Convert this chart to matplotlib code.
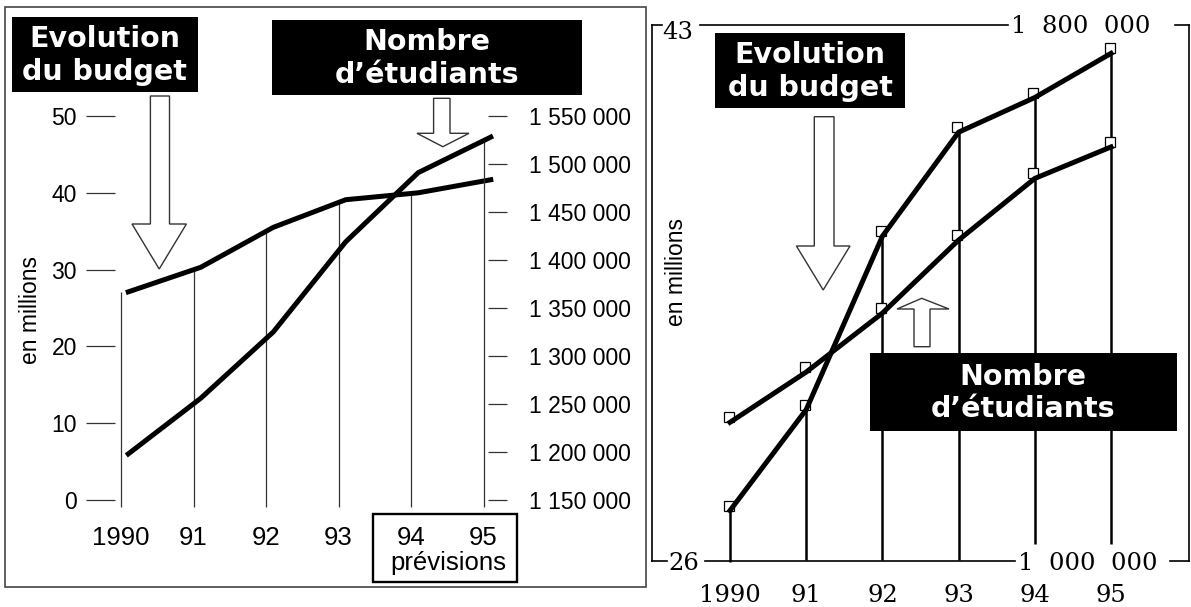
import matplotlib
matplotlib.use('Agg')
import matplotlib.pyplot as plt
import numpy as np
from matplotlib.patches import Rectangle, Polygon
from matplotlib.lines import Line2D
from matplotlib.transforms import Affine2D, ScaledTranslation

plt.rcParams['font.family'] = ['Liberation Sans', 'DejaVu Sans']

# ---------------- data ----------------
years = ["1990", "91", "92", "93", "94", "95"]
left_budget = [27.1, 30.3, 35.5, 39.1, 40.0, 41.7]            # millions
left_students = [1198000, 1256000, 1325000, 1419000, 1491000, 1528000]
left_budget_ticks = [0, 10, 20, 30, 40, 50]
left_student_ticks = [1150000, 1200000, 1250000, 1300000, 1350000,
                      1400000, 1450000, 1500000, 1550000]
left_student_labels = ["1 150 000", "1 200 000", "1 250 000", "1 300 000", "1 350 000",
                       "1 400 000", "1 450 000", "1 500 000", "1 550 000"]

right_budget = [27.6, 30.8, 36.3, 39.6, 40.7, 42.1]
right_students = [1207000, 1282000, 1370000, 1479000, 1571000, 1618000]
right_budget_lim = (26, 43)
right_student_lim = (1000000, 1800000)
right_budget_labels = ["26", "43"]
right_student_labels = ["1  000  000", "1  800  000"]

# ---------------- figure ----------------
W, H = 1191, 607
fig = plt.figure(figsize=(W / 100, H / 100), dpi=100)
pix = Affine2D().scale(1 / W, -1 / H).translate(0, 1) + fig.transFigure


def axes_px(x0, y0, x1, y1):
    return fig.add_axes([x0 / W, 1 - y1 / H, (x1 - x0) / W, (y1 - y0) / H])


def down_arrow(sl, sr, top, hb, hl, hr, tipx, tipy):
    pts = [(sl, top), (sr, top), (sr, hb), (hr, hb), (tipx, tipy), (hl, hb), (sl, hb)]
    fig.add_artist(Polygon(pts, closed=True, transform=pix, facecolor='white',
                           edgecolor='#333333', lw=1.0, zorder=5))


def label_box(x0, y0, x1, y1, text):
    fig.add_artist(Rectangle((x0, y0), x1 - x0, y1 - y0, transform=pix,
                             facecolor='black', edgecolor='none', zorder=6))
    fig.text((x0 + x1) / 2, (y0 + y1) / 2 + 1, text, transform=pix, ha='center', va='center',
             color='white', fontweight='bold', family='DejaVu Sans', fontsize=20.5,
             linespacing=1.2, zorder=7)


x = np.arange(len(years))
black = 'black'

# ================= LEFT PANEL =================
fig.add_artist(Rectangle((5, 7), 640.5, 580, transform=pix, fill=False,
                         edgecolor='#444444', lw=1.2))

ax1 = axes_px(121, 116, 483.5, 500)
ax1.set_xlim(0, 5)
ax1.set_ylim(0, 50)
ax1.patch.set_alpha(0)
for s in ax1.spines.values():
    s.set_visible(False)
ax1.spines['left'].set_position(('outward', 6 * 0.72))
ax1.set_yticks(left_budget_ticks)
ax1.set_yticklabels([str(t) for t in left_budget_ticks])
ax1.tick_params(axis='y', direction='out', length=29 * 0.72, width=0.9,
                color='#333333', pad=6.5, labelsize=16.5)
ax1.set_xticks(x)
ax1.set_xticklabels(years, fontsize=18.5)
ax1.tick_params(axis='x', length=0, pad=19)

ax2 = ax1.twinx()
ax2.set_ylim(left_student_ticks[0], left_student_ticks[-1])
for s in ax2.spines.values():
    s.set_visible(False)
ax2.spines['right'].set_position(('outward', 4 * 0.72))
ax2.set_yticks(left_student_ticks)
ax2.set_yticklabels(left_student_labels)
ax2.tick_params(axis='y', direction='out', length=19 * 0.72, width=0.9,
                color='#333333', pad=16.5, labelsize=16.5)

shift = 0.1
xs = x + shift
ax1.plot(xs, left_budget, color=black, lw=3.6, clip_on=False, zorder=4)
ax2.plot(xs, left_students, color=black, lw=3.6, clip_on=False, zorder=4)

# thin vertical guide lines
bot_b = -7 * 50 / 384
for i in range(5):
    ax1.vlines(x[i], bot_b, np.interp(x[i], xs, left_budget), color='#333333',
               lw=0.9, clip_on=False, zorder=3)
bot_s = left_student_ticks[0] - 7 * 400000 / 384
ax2.vlines(x[5], bot_s, np.interp(x[5], xs, left_students), color='#333333',
           lw=0.9, clip_on=False, zorder=3)

fig.add_artist(Rectangle((372.7, 514), 144, 67.7, transform=pix, fill=False,
                         edgecolor='black', lw=1.7))
fig.text(448, 563, "prévisions", transform=pix, ha='center', va='center', fontsize=18.5)
fig.text(30.5, 310, "en millions", transform=pix, rotation=90, ha='center',
         va='center', fontsize=16.5)

label_box(11.5, 17.3, 197.5, 91.7, "Evolution\ndu budget")
label_box(271.7, 20, 581.7, 95, "Nombre\nd’étudiants")
down_arrow(150.4, 169.5, 96, 224, 132, 186.4, 159.2, 269)
down_arrow(433.6, 450, 98.3, 133.3, 417, 469, 442.8, 146.7)

# ================= RIGHT PANEL =================
fx0, fx1, fy0, fy1 = 651.7, 1188.5, 25, 561
p0, p5 = 730, 1111
per = (p5 - p0) / 5
ax3 = axes_px(fx0, fy0, fx1, fy1)
ax3.set_xlim(-(p0 - fx0) / per, 5 + (fx1 - p5) / per)
ax3.set_ylim(*right_budget_lim)
ax3.patch.set_alpha(0)
for k, s in ax3.spines.items():
    s.set_linewidth(1.2)
    s.set_color('black')
ax3.spines['top'].set_visible(False)
ax3.spines['bottom'].set_visible(False)
ax3.set_yticks([])
ax3.set_xticks(x)
ax3.set_xticklabels(years, family='DejaVu Serif', fontsize=17.5)
ax3.tick_params(axis='x', length=0, pad=16.5)

ax4 = ax3.twinx()
ax4.set_ylim(*right_student_lim)
ax4.set_yticks([])
for s in ax4.spines.values():
    s.set_visible(False)

# frame segments interrupted by the value labels
for seg in [[(fx0, fy0), (662, fy0)], [(700, fy0), (1008, fy0)], [(1175, fy0), (fx1, fy0)],
            [(fx0, fy1), (667, fy1)], [(705, fy1), (1015, fy1)], [(1170, fy1), (fx1, fy1)]]:
    (a, b), (c, d) = seg
    fig.add_artist(Line2D([a, c], [b, d], transform=pix, color='black', lw=1.2))

serif = dict(family='DejaVu Serif', fontsize=17.5)
fig.text(678, 39, right_budget_labels[1], transform=pix, ha='center', va='baseline', **serif)
fig.text(684, 570, right_budget_labels[0], transform=pix, ha='center', va='baseline', **serif)
fig.text(1081, 33.3, right_student_labels[1], transform=pix, ha='center', va='baseline', **serif)
fig.text(1088, 570, right_student_labels[0], transform=pix, ha='center', va='baseline', **serif)

# vertical lines up to the budget points
px_b = (right_budget_lim[1] - right_budget_lim[0]) / (fy1 - fy0)
bottoms_px = [562, 560, 560, 560, 544, 544]
for i in range(6):
    ax3.vlines(x[i], right_budget_lim[0] - (bottoms_px[i] - fy1) * px_b, right_budget[i],
               color='black', lw=1.8, clip_on=False, zorder=3)

mk_off = ScaledTranslation(-0.015, 0.05, fig.dpi_scale_trans)
ax3.plot(x, right_budget, ls='none', marker='s', ms=6.5, mfc='white', mec='black',
         mew=0.9, transform=ax3.transData + mk_off, clip_on=False, zorder=3.5)
ax4.plot(x, right_students, ls='none', marker='s', ms=6.5, mfc='white', mec='black',
         mew=0.9, transform=ax4.transData + mk_off, clip_on=False, zorder=3.5)
ax3.plot(x, right_budget, color=black, lw=3.6, clip_on=False, zorder=4)
ax4.plot(x, right_students, color=black, lw=3.6, clip_on=False, zorder=4)

fig.text(676.5, 272, "en millions", transform=pix, rotation=90, ha='center',
         va='center', fontsize=16.5)

label_box(715.2, 33.3, 904.8, 107.7, "Evolution\ndu budget")
label_box(869.7, 353.3, 1176.7, 430.7, "Nombre\nd’étudiants")
down_arrow(814.3, 834, 116.7, 246, 796.4, 850, 823.2, 290)
# up arrow
ua = [(914, 346.7), (930, 346.7), (930, 309), (949, 309), (921.7, 298.3), (897, 309), (914, 309)]
fig.add_artist(Polygon(ua, closed=True, transform=pix, facecolor='white',
                       edgecolor='#333333', lw=1.0, zorder=5))

fig.savefig('out.png', dpi=100)
